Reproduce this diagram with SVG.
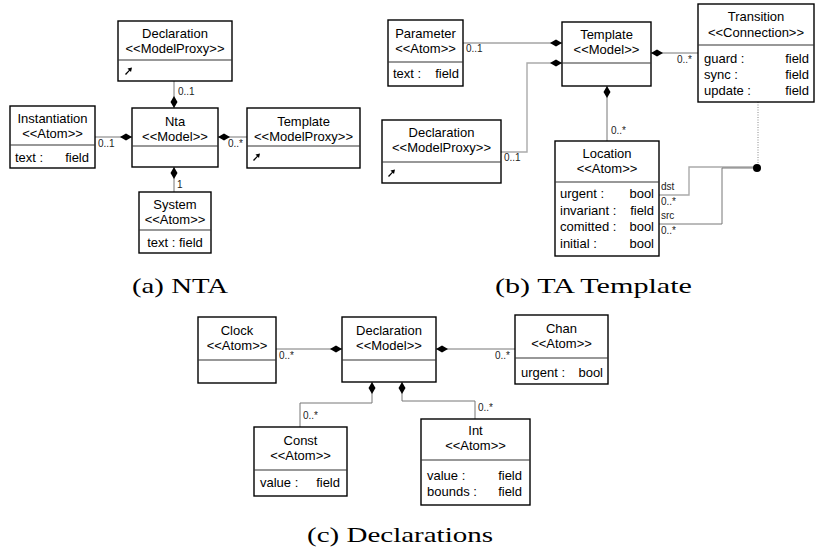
<svg xmlns="http://www.w3.org/2000/svg" width="815" height="554" viewBox="0 0 815 554">
  <defs>
    <style>
      .box { fill: #fff; stroke: #000; stroke-width: 1.4; }
      .div { stroke: #333; stroke-width: 1.2; }
      .t { font-family: "Liberation Sans", Arial, sans-serif; font-size: 13px; fill: #000; }
      .c { text-anchor: middle; }
      .e { text-anchor: end; }
      .m { font-family: "Liberation Sans", Arial, sans-serif; font-size: 10px; fill: #222; }
      .cap { font-family: "Liberation Serif", "Times New Roman", serif; font-size: 22px; fill: #000; }
      .ln { fill: none; stroke: #777; stroke-width: 1; }
      .lt { fill: none; stroke: #aaa; stroke-width: 1.4; }
      .dot { fill: none; stroke: #888; stroke-width: 1; stroke-dasharray: 1 1.5; }
    </style>
    <!-- composition diamond, horizontal, centred on origin -->
    <path id="dia" d="M-6,0 L0,-3.5 L6,0 L0,3.5 Z" fill="#000"/>
    <!-- model proxy link icon -->
    <path id="proxy" d="M0,6 L4,2 L2.5,0.5 L7,-0.5 L6,4 L4.8,2.8 L1,7 Z" fill="#000"/>
  </defs>

  <!-- connectors -->
  <g id="connectors">
    <!-- (a) NTA -->
    <line class="ln" x1="174" y1="81" x2="174" y2="108"/>
    <use href="#dia" transform="translate(174,102) rotate(90)"/>
    <text class="m" x="178" y="95">0..1</text>
    <line class="ln" x1="95" y1="137" x2="132" y2="137"/>
    <use href="#dia" transform="translate(126,137)"/>
    <text class="m" x="98" y="147">0..1</text>
    <line class="ln" x1="218" y1="137" x2="247" y2="137"/>
    <use href="#dia" transform="translate(224,137)"/>
    <text class="m" x="228" y="147">0..*</text>
    <line class="ln" x1="174" y1="167" x2="174" y2="192"/>
    <use href="#dia" transform="translate(174,173) rotate(90)"/>
    <text class="m" x="177" y="188">1</text>

    <!-- (b) TA Template -->
    <line class="ln" x1="463" y1="43" x2="562" y2="43"/>
    <use href="#dia" transform="translate(556,43)"/>
    <text class="m" x="466" y="52">0..1</text>
    <polyline class="lt" points="501,152 527,152 527,63 562,63"/>
    <use href="#dia" transform="translate(556,63)"/>
    <text class="m" x="504" y="161">0..1</text>
    <line class="ln" x1="651" y1="53" x2="698" y2="53"/>
    <use href="#dia" transform="translate(657,53)"/>
    <text class="m" x="677" y="63">0..*</text>
    <line class="ln" x1="607" y1="86" x2="607" y2="141"/>
    <use href="#dia" transform="translate(607,92) rotate(90)"/>
    <text class="m" x="611" y="134">0..*</text>
    <line class="dot" x1="758" y1="102" x2="758" y2="168"/>
    <polyline class="lt" points="659,195 689,195 689,167 757,167"/>
    <polyline class="ln" points="659,224 722,224 722,168 757,168"/>
    <circle cx="757" cy="168" r="4" fill="#000"/>
    <text class="m" x="661" y="190">dst</text>
    <text class="m" x="661" y="205">0..*</text>
    <text class="m" x="661" y="219">src</text>
    <text class="m" x="661" y="234">0..*</text>

    <!-- (c) Declarations -->
    <line class="ln" x1="276" y1="349" x2="342" y2="349"/>
    <use href="#dia" transform="translate(336,349)"/>
    <text class="m" x="279" y="359">0..*</text>
    <line class="ln" x1="436" y1="349" x2="515" y2="349"/>
    <use href="#dia" transform="translate(442,349)"/>
    <text class="m" x="495" y="359">0..*</text>
    <polyline class="ln" points="372,382 372,403 300,403 300,427"/>
    <use href="#dia" transform="translate(372,388) rotate(90)"/>
    <text class="m" x="303" y="419">0..*</text>
    <polyline class="ln" points="402,382 402,401 475,401 475,419"/>
    <use href="#dia" transform="translate(402,388) rotate(90)"/>
    <text class="m" x="478" y="411">0..*</text>
  </g>

  <!-- (a) NTA -->
  <g id="a-declaration">
    <rect class="box" x="118" y="21" width="114" height="60"/>
    <line class="div" x1="118" y1="60" x2="232" y2="60"/>
    <text class="t c" x="175" y="38">Declaration</text>
    <text class="t c" x="175" y="53">&lt;&lt;ModelProxy&gt;&gt;</text>
    <use href="#proxy" transform="translate(125,68)"/>
  </g>
  <g id="a-nta">
    <rect class="box" x="132" y="108" width="86" height="59"/>
    <line class="div" x1="132" y1="146" x2="218" y2="146"/>
    <text class="t c" x="175" y="126">Nta</text>
    <text class="t c" x="175" y="141">&lt;&lt;Model&gt;&gt;</text>
  </g>
  <g id="a-instantiation">
    <rect class="box" x="10" y="106" width="85" height="62"/>
    <line class="div" x1="10" y1="145" x2="95" y2="145"/>
    <text class="t c" x="52.5" y="123">Instantiation</text>
    <text class="t c" x="52.5" y="138">&lt;&lt;Atom&gt;&gt;</text>
    <text class="t" x="15" y="162">text :</text>
    <text class="t e" x="89" y="162">field</text>
  </g>
  <g id="a-template">
    <rect class="box" x="247" y="108" width="113" height="60"/>
    <line class="div" x1="247" y1="146" x2="360" y2="146"/>
    <text class="t c" x="303.5" y="126">Template</text>
    <text class="t c" x="303.5" y="141">&lt;&lt;ModelProxy&gt;&gt;</text>
    <use href="#proxy" transform="translate(253,154)"/>
  </g>
  <g id="a-system">
    <rect class="box" x="139" y="192" width="72" height="61"/>
    <line class="div" x1="139" y1="230" x2="211" y2="230"/>
    <text class="t c" x="175" y="209">System</text>
    <text class="t c" x="175" y="224">&lt;&lt;Atom&gt;&gt;</text>
    <text class="t c" x="175" y="247">text : field</text>
  </g>

  <!-- (b) TA Template -->
  <g id="b-parameter">
    <rect class="box" x="388" y="20" width="75" height="66"/>
    <line class="div" x1="388" y1="62" x2="463" y2="62"/>
    <text class="t c" x="425.5" y="38">Parameter</text>
    <text class="t c" x="425.5" y="53">&lt;&lt;Atom&gt;&gt;</text>
    <text class="t" x="393" y="78">text :</text>
    <text class="t e" x="459" y="78">field</text>
  </g>
  <g id="b-template">
    <rect class="box" x="562" y="22" width="89" height="64"/>
    <line class="div" x1="562" y1="63" x2="651" y2="63" stroke-width="1.8"/>
    <text class="t c" x="606.5" y="39">Template</text>
    <text class="t c" x="606.5" y="54">&lt;&lt;Model&gt;&gt;</text>
  </g>
  <g id="b-transition">
    <rect class="box" x="698" y="4" width="116" height="98"/>
    <line class="div" x1="698" y1="45" x2="814" y2="45"/>
    <text class="t c" x="756" y="21">Transition</text>
    <text class="t c" x="756" y="37">&lt;&lt;Connection&gt;&gt;</text>
    <text class="t" x="704" y="63">guard :</text>
    <text class="t e" x="809" y="63">field</text>
    <text class="t" x="704" y="79">sync :</text>
    <text class="t e" x="809" y="79">field</text>
    <text class="t" x="704" y="95">update :</text>
    <text class="t e" x="809" y="95">field</text>
  </g>
  <g id="b-declaration">
    <rect class="box" x="382" y="120" width="119" height="63"/>
    <line class="div" x1="382" y1="162" x2="501" y2="162"/>
    <text class="t c" x="441.5" y="137">Declaration</text>
    <text class="t c" x="441.5" y="152">&lt;&lt;ModelProxy&gt;&gt;</text>
    <use href="#proxy" transform="translate(388,170)"/>
  </g>
  <g id="b-location">
    <rect class="box" x="555" y="141" width="104" height="115"/>
    <line class="div" x1="555" y1="182" x2="659" y2="182"/>
    <text class="t c" x="607" y="158">Location</text>
    <text class="t c" x="607" y="173">&lt;&lt;Atom&gt;&gt;</text>
    <text class="t" x="560" y="198">urgent :</text>
    <text class="t e" x="654" y="198">bool</text>
    <text class="t" x="560" y="215">invariant :</text>
    <text class="t e" x="654" y="215">field</text>
    <text class="t" x="560" y="231">comitted :</text>
    <text class="t e" x="654" y="231">bool</text>
    <text class="t" x="560" y="248">initial :</text>
    <text class="t e" x="654" y="248">bool</text>
  </g>

  <!-- (c) Declarations -->
  <g id="c-clock">
    <rect class="box" x="198" y="317" width="78" height="66"/>
    <line class="div" x1="198" y1="360" x2="276" y2="360"/>
    <text class="t c" x="237" y="335">Clock</text>
    <text class="t c" x="237" y="350">&lt;&lt;Atom&gt;&gt;</text>
  </g>
  <g id="c-declaration">
    <rect class="box" x="342" y="317" width="94" height="65"/>
    <line class="div" x1="342" y1="360" x2="436" y2="360"/>
    <text class="t c" x="389" y="335">Declaration</text>
    <text class="t c" x="389" y="350">&lt;&lt;Model&gt;&gt;</text>
  </g>
  <g id="c-chan">
    <rect class="box" x="515" y="315" width="93" height="69"/>
    <line class="div" x1="515" y1="358" x2="608" y2="358"/>
    <text class="t c" x="561.5" y="333">Chan</text>
    <text class="t c" x="561.5" y="348">&lt;&lt;Atom&gt;&gt;</text>
    <text class="t" x="521" y="377">urgent :</text>
    <text class="t e" x="603" y="377">bool</text>
  </g>
  <g id="c-const">
    <rect class="box" x="254" y="427" width="93" height="69"/>
    <line class="div" x1="254" y1="470" x2="347" y2="470"/>
    <text class="t c" x="300.5" y="445">Const</text>
    <text class="t c" x="300.5" y="460">&lt;&lt;Atom&gt;&gt;</text>
    <text class="t" x="260" y="487">value :</text>
    <text class="t e" x="340" y="487">field</text>
  </g>
  <g id="c-int">
    <rect class="box" x="421" y="419" width="109" height="86"/>
    <line class="div" x1="421" y1="460" x2="530" y2="460"/>
    <text class="t c" x="475.5" y="435">Int</text>
    <text class="t c" x="475.5" y="450">&lt;&lt;Atom&gt;&gt;</text>
    <text class="t" x="427" y="480">value :</text>
    <text class="t e" x="522" y="480">field</text>
    <text class="t" x="427" y="496">bounds :</text>
    <text class="t e" x="522" y="496">field</text>
  </g>

  <!-- captions -->
  <text class="cap" x="132" y="293" textLength="96" lengthAdjust="spacingAndGlyphs">(a) NTA</text>
  <text class="cap" x="495" y="293" textLength="197" lengthAdjust="spacingAndGlyphs">(b) TA Template</text>
  <text class="cap" x="307" y="542" textLength="186" lengthAdjust="spacingAndGlyphs">(c) Declarations</text>
</svg>
